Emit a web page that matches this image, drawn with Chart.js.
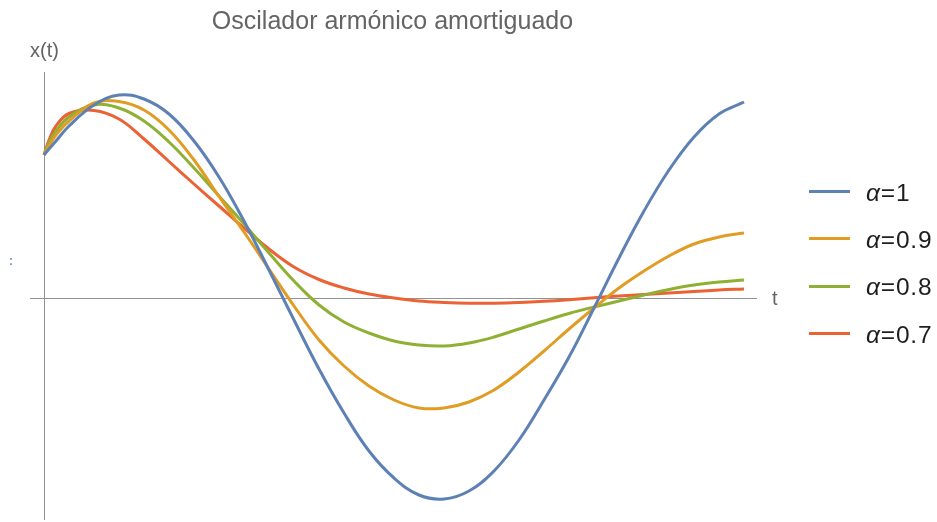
<!DOCTYPE html>
<html>
<head>
<meta charset="utf-8">
<script src="https://cdn.jsdelivr.net/npm/chart.js@4.4.1/dist/chart.umd.min.js"></script>
<style>
html,body{margin:0;padding:0;background:#fff;}
#wrap{position:relative;width:937px;height:522px;overflow:hidden;font-family:"Liberation Sans",Arial,sans-serif;}
#c{position:absolute;left:0;top:0;}
.txt{position:absolute;white-space:nowrap;color:#646464;}
#title{left:392.5px;top:8px;font-size:25px;line-height:25px;transform:translateX(-50%);}
#ylab{left:30px;top:40px;font-size:20px;line-height:20px;}
#xlab{left:772px;top:288px;font-size:20px;line-height:20px;}
#dots{position:absolute;left:9px;top:255px;font-size:12px;line-height:12px;font-weight:bold;color:#6F8FC0;}
.leg{position:absolute;left:809px;width:41px;height:3px;}
.legt{position:absolute;left:866px;font-size:24.5px;line-height:24px;letter-spacing:0.8px;color:#1e1e1e;white-space:nowrap;}
.legt i{font-style:italic;}
</style>
</head>
<body>
<div id="wrap">
<canvas id="c" width="937" height="522"></canvas>
<div class="txt" id="title">Oscilador armónico amortiguado</div>
<div class="txt" id="ylab">x(t)</div>
<div class="txt" id="xlab">t</div>
<div id="dots">:</div>
<div id="legend"></div>
</div>
<script>
// time values (t)
const tValues = [0, 0.05, 0.12, 0.25, 0.5, 0.75, 1.0, 1.25, 1.5, 1.75, 2.0, 2.25, 2.5, 2.75, 3.0, 3.25, 3.5, 3.75, 4.0, 4.25, 4.5, 4.75, 5.0, 5.25, 5.5, 5.75, 6.0, 6.25, 6.5, 6.75, 7.0];
// series values
const alpha10 = [1.43, 1.49, 1.57, 1.72, 1.93, 2.03, 1.99, 1.84, 1.57, 1.21, 0.77, 0.28, -0.22, -0.71, -1.15, -1.53, -1.80, -1.97, -2.01, -1.93, -1.73, -1.42, -1.02, -0.59, -0.10, 0.40, 0.87, 1.28, 1.61, 1.84, 1.96];
const alpha09 = [1.43, 1.52, 1.63, 1.77, 1.95, 1.965, 1.88, 1.68, 1.38, 1.015, 0.66, 0.29, -0.08, -0.42, -0.68, -0.88, -1.02, -1.10, -1.10, -1.04, -0.92, -0.74, -0.53, -0.31, -0.10, 0.10, 0.27, 0.42, 0.54, 0.61, 0.65];
const alpha08 = [1.43, 1.55, 1.67, 1.81, 1.93, 1.90, 1.77, 1.56, 1.30, 1.02, 0.74, 0.45, 0.17, -0.07, -0.24, -0.35, -0.43, -0.47, -0.48, -0.45, -0.39, -0.31, -0.23, -0.155, -0.09, -0.03, 0.03, 0.085, 0.13, 0.16, 0.18];
const alpha07 = [1.43, 1.58, 1.72, 1.845, 1.875, 1.79, 1.59, 1.365, 1.14, 0.92, 0.70, 0.49, 0.31, 0.185, 0.10, 0.04, 0.0, -0.03, -0.045, -0.053, -0.052, -0.045, -0.033, -0.017, 0.002, 0.02, 0.035, 0.05, 0.065, 0.08, 0.09];
const seriesLabels = ["1", "0.9", "0.8", "0.7"];
const seriesColors = ["#5E81B5", "#E19C24", "#8FB032", "#EB6235"];

const allSeries = [alpha10, alpha09, alpha08, alpha07];

const axesPlugin = {
  id: 'axesAtZero',
  beforeDatasetsDraw(chart) {
    const {ctx, chartArea, scales} = chart;
    const x0 = Math.round(scales.x.getPixelForValue(0)) + 0.5;
    const y0 = Math.round(scales.y.getPixelForValue(0)) + 0.5;
    ctx.save();
    ctx.strokeStyle = '#929292';
    ctx.lineWidth = 1;
    ctx.beginPath();
    ctx.moveTo(chartArea.left, y0);
    ctx.lineTo(chartArea.right, y0);
    ctx.moveTo(x0, chartArea.top);
    ctx.lineTo(x0, chartArea.bottom);
    ctx.stroke();
    ctx.restore();
  }
};

new Chart(document.getElementById('c'), {
  type: 'line',
  data: {
    datasets: allSeries.map((s, i) => ({
      label: 'α=' + seriesLabels[i],
      data: tValues.map((t, j) => ({x: t, y: s[j]})),
      borderColor: seriesColors[i],
      borderWidth: 3,
      pointRadius: 0,
      tension: 0.4,
      fill: false,
      clip: false
    }))
  },
  options: {
    responsive: false,
    animation: false,
    devicePixelRatio: 1,
    layout: {padding: {left: 30, right: 180, top: 72, bottom: 2}},
    plugins: {legend: {display: false}, title: {display: false}, tooltip: {enabled: false}},
    scales: {
      x: {type: 'linear', min: -0.14, max: 7.13, display: false},
      y: {type: 'linear', min: -2.22, max: 2.26, display: false}
    }
  },
  plugins: [axesPlugin]
});

// HTML legend
const legendEl = document.getElementById('legend');
const lineTops = [190, 237, 284.5, 332];
seriesLabels.forEach((lab, i) => {
  const ln = document.createElement('div');
  ln.className = 'leg';
  ln.style.top = lineTops[i] + 'px';
  ln.style.background = seriesColors[i];
  legendEl.appendChild(ln);
  const tx = document.createElement('div');
  tx.className = 'legt';
  tx.style.top = (lineTops[i] - 9.5) + 'px';
  tx.innerHTML = '<i>α</i>=' + lab;
  legendEl.appendChild(tx);
});
</script>
</body>
</html>
